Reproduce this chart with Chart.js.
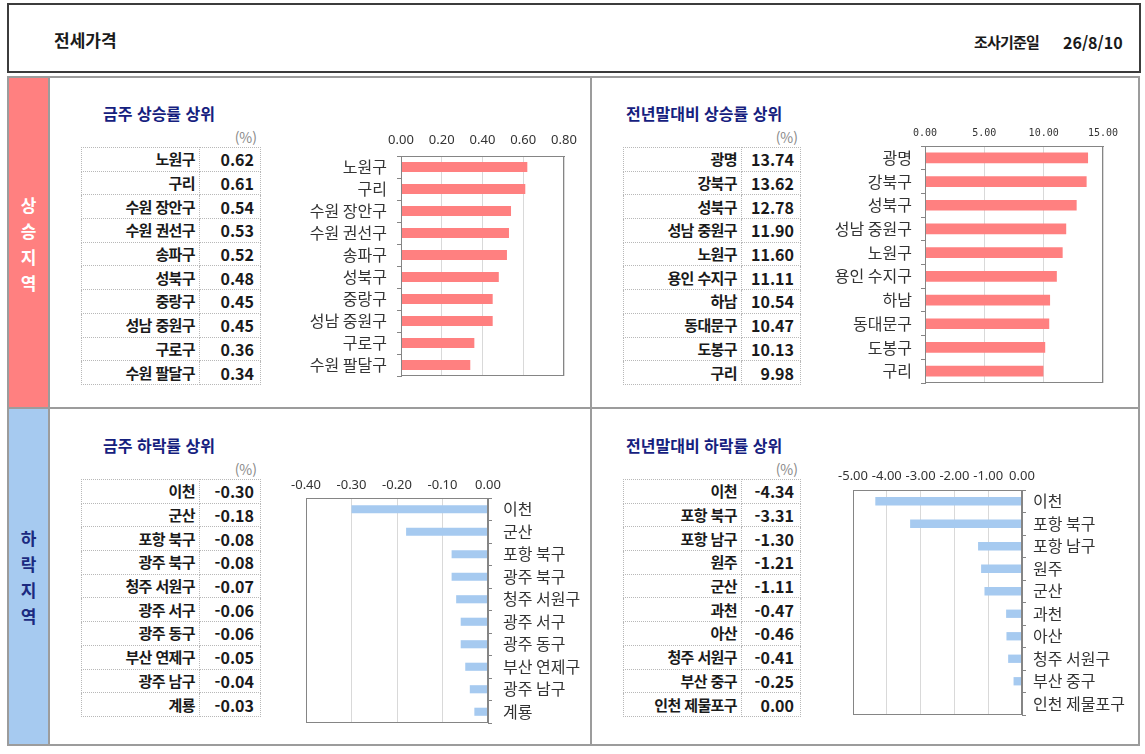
<!DOCTYPE html>
<html lang="ko">
<head>
<meta charset="utf-8">
<title>전세가격</title>
<script src="https://cdn.jsdelivr.net/npm/chart.js@4.4.1/dist/chart.umd.min.js"></script>
<style>
  body { margin: 0; width: 1145px; height: 754px; background: #fff; position: relative; overflow: hidden;
         font-family: "Noto Sans CJK KR", "Noto Sans", sans-serif; color: #1a1a1a; }
  .abs { position: absolute; box-sizing: border-box; }
  #header { left: 7px; top: 3px; width: 1134px; height: 70px; border: 2px solid #3c3c3c; }
  #body { left: 7px; top: 76px; width: 1133px; height: 670px; border: 2px solid #9c9c9c; }
  .line { background: #9c9c9c; }
  .side { font-weight: bold; font-size: 17px; line-height: 26px; text-align: center; width: 39px; }
  .title { font-weight: bold; font-size: 16px; color: #15207e; line-height: 22px; white-space: nowrap; }
  .unit { font-size: 14px; color: #8a8a8a; line-height: 18px; text-align: right; }
  table.rank { border-collapse: collapse; }
  table.rank tr { height: 23.7px; }
  table.rank td { border: 1px dotted #b8b8b8; padding: 0; line-height: 18px; text-align: right; font-weight: bold; white-space: nowrap; }
  table.rank td.lab { font-size: 15px; letter-spacing: -0.6px; padding-right: 4px; }
  table.rank td.val { font-size: 16px; padding-right: 6px; }
  .chart { position: absolute; }
</style>
</head>
<body>

<div id="header" class="abs"></div>
<div class="abs" style="left:54px; top:28px; font-size:17px; font-weight:bold; line-height:24px;">전세가격</div>
<div class="abs" style="left:974px; top:31px; font-size:15px; font-weight:bold; line-height:22px; letter-spacing:-0.8px;">조사기준일</div>
<div class="abs" style="left:1063px; top:31px; font-size:16px; font-weight:bold; line-height:22px;">26/8/10</div>

<div id="body" class="abs"></div>
<div class="abs" style="left:9px; top:78px; width:39px; height:329px; background:#ff8080;"></div>
<div class="abs" style="left:9px; top:409px; width:39px; height:335px; background:#a6caf0;"></div>
<div class="abs side" style="left:9px; top:192px; color:#fff;">상<br>승<br>지<br>역</div>
<div class="abs side" style="left:9px; top:525px; color:#1b2a80;">하<br>락<br>지<br>역</div>

<div class="abs title" style="left:103px; top:102px;">금주 상승률 상위</div>
<div class="abs title" style="left:626px; top:102px;">전년말대비 상승률 상위</div>
<div class="abs title" style="left:103px; top:434px;">금주 하락률 상위</div>
<div class="abs title" style="left:626px; top:434px;">전년말대비 하락률 상위</div>

<div class="abs unit" style="left:200px; top:128px; width:57px;">(%)</div>
<div class="abs unit" style="left:740px; top:128px; width:58px;">(%)</div>
<div class="abs unit" style="left:200px; top:460px; width:57px;">(%)</div>
<div class="abs unit" style="left:740px; top:460px; width:58px;">(%)</div>

<table id="t-week-up" class="abs rank" style="left:81px; top:147px; width:180px;"></table>
<table id="t-year-up" class="abs rank" style="left:623px; top:147px; width:178px;"></table>
<table id="t-week-down" class="abs rank" style="left:81px; top:479px; width:180px;"></table>
<table id="t-year-down" class="abs rank" style="left:623px; top:479px; width:178px;"></table>

<div class="chart" style="left:290px; top:122px; width:290px; height:258px;"><canvas id="c-week-up"></canvas></div>
<div class="chart" style="left:815px; top:116px; width:312px; height:271px;"><canvas id="c-year-up"></canvas></div>
<div class="chart" style="left:280px; top:468px; width:309px; height:259px;"><canvas id="c-week-down"></canvas></div>
<div class="chart" style="left:828px; top:462px; width:309px; height:257px;"><canvas id="c-year-down"></canvas></div>

<div class="abs line" style="left:48px; top:78px; width:2px; height:666px;"></div>
<div class="abs line" style="left:590px; top:78px; width:2px; height:666px;"></div>
<div class="abs line" style="left:9px; top:407px; width:1129px; height:2px;"></div>

<script>
// 금주 상승률 상위
const weekUpLabels = ['노원구', '구리', '수원 장안구', '수원 권선구', '송파구', '성북구', '중랑구', '성남 중원구', '구로구', '수원 팔달구'];
const weekUpValues = [0.62, 0.61, 0.54, 0.53, 0.52, 0.48, 0.45, 0.45, 0.36, 0.34];

// 전년말대비 상승률 상위
const yearUpLabels = ['광명', '강북구', '성북구', '성남 중원구', '노원구', '용인 수지구', '하남', '동대문구', '도봉구', '구리'];
const yearUpValues = [13.74, 13.62, 12.78, 11.90, 11.60, 11.11, 10.54, 10.47, 10.13, 9.98];

// 금주 하락률 상위
const weekDownLabels = ['이천', '군산', '포항 북구', '광주 북구', '청주 서원구', '광주 서구', '광주 동구', '부산 연제구', '광주 남구', '계룡'];
const weekDownValues = [-0.30, -0.18, -0.08, -0.08, -0.07, -0.06, -0.06, -0.05, -0.04, -0.03];

// 전년말대비 하락률 상위
const yearDownLabels = ['이천', '포항 북구', '포항 남구', '원주', '군산', '과천', '아산', '청주 서원구', '부산 중구', '인천 제물포구'];
const yearDownValues = [-4.34, -3.31, -1.30, -1.21, -1.11, -0.47, -0.46, -0.41, -0.25, 0.00];

const UP_COLOR = '#ff8080';
const DOWN_COLOR = '#a6caf0';

function fillTable(id, labels, values, labW) {
    const table = document.getElementById(id);
    let html = '';
    labels.forEach((name, i) => {
        html += `<tr><td class="lab" style="width:${labW}px">${name}</td><td class="val">${values[i].toFixed(2)}</td></tr>`;
    });
    table.innerHTML = html;
}

fillTable('t-week-up', weekUpLabels, weekUpValues, 113);
fillTable('t-year-up', yearUpLabels, yearUpValues, 113);
fillTable('t-week-down', weekDownLabels, weekDownValues, 113);
fillTable('t-year-down', yearDownLabels, yearDownValues, 113);

// box around the plot area
const plotFrame = {
    id: 'plotFrame',
    afterDraw(chart) {
        const a = chart.chartArea;
        const ctx = chart.ctx;
        ctx.save();
        ctx.strokeStyle = '#858585';
        ctx.lineWidth = 1;
        ctx.strokeRect(Math.round(a.left) + 0.5, Math.round(a.top) + 0.5,
                       Math.round(a.right - a.left) - 1, Math.round(a.bottom - a.top) - 1);
        ctx.restore();
    }
};

function makeChart(id, labels, values, o) {
    new Chart(document.getElementById(id), {
        type: 'bar',
        data: {
            labels: labels,
            datasets: [{
                data: values,
                backgroundColor: o.color,
                borderWidth: 0,
                categoryPercentage: 1,
                barPercentage: o.bar
            }]
        },
        options: {
            indexAxis: 'y',
            responsive: true,
            maintainAspectRatio: false,
            animation: false,
            layout: { padding: o.pad },
            plugins: {
                legend: { display: false },
                tooltip: { enabled: false }
            },
            scales: {
                x: {
                    position: 'top',
                    min: o.min,
                    max: o.max,
                    ticks: {
                        stepSize: o.step,
                        autoSkip: false,
                        maxRotation: 0,
                        padding: o.xPad,
                        color: '#333',
                        font: o.xFont,
                        callback: v => Number(v).toFixed(2)
                    },
                    grid: { color: '#d9d9d9', drawTicks: false },
                    border: { color: '#858585' },
                    afterFit: s => { s.height = o.xH; s.paddingLeft = 0; s.paddingRight = 0; }
                },
                y: {
                    position: o.yPos,
                    ticks: {
                        autoSkip: false,
                        padding: o.yPad,
                        color: '#333',
                        font: { family: '"Noto Sans CJK KR", sans-serif', size: 16 }
                    },
                    grid: { drawOnChartArea: false, color: '#858585', tickLength: 4 },
                    border: { color: '#858585' },
                    afterFit: s => { s.width = o.yW; s.paddingTop = 0; s.paddingBottom = 0; }
                }
            }
        },
        plugins: [plotFrame]
    });
}

makeChart('c-week-up', weekUpLabels, weekUpValues, {
    color: UP_COLOR, min: 0, max: 0.8, step: 0.2, bar: 0.45,
    yPos: 'left', yW: 111, xH: 34, xPad: 8, yPad: 10,
    pad: { left: 0, top: 0, right: 16, bottom: 4 },
    xFont: { family: '"Noto Sans", sans-serif', size: 13 }
});

makeChart('c-year-up', yearUpLabels, yearUpValues, {
    color: UP_COLOR, min: 0, max: 15, step: 5, bar: 0.45,
    yPos: 'left', yW: 110, xH: 30, xPad: 7, yPad: 9,
    pad: { left: 0, top: 0, right: 24, bottom: 4 },
    xFont: { family: '"DejaVu Sans Mono", monospace', size: 10 }
});

makeChart('c-week-down', weekDownLabels, weekDownValues, {
    color: DOWN_COLOR, min: -0.4, max: 0, step: 0.1, bar: 0.36,
    yPos: 'right', yW: 101, xH: 30, xPad: 5, yPad: 11,
    pad: { left: 26, top: 0, right: 0, bottom: 4 },
    xFont: { family: '"Noto Sans", sans-serif', size: 13 }
});

makeChart('c-year-down', yearDownLabels, yearDownValues, {
    color: DOWN_COLOR, min: -5, max: 0, step: 1, bar: 0.37,
    yPos: 'right', yW: 115, xH: 28, xPad: 6, yPad: 7,
    pad: { left: 25, top: 0, right: 0, bottom: 4 },
    xFont: { family: '"Noto Sans", sans-serif', size: 13 }
});
</script>
</body>
</html>
